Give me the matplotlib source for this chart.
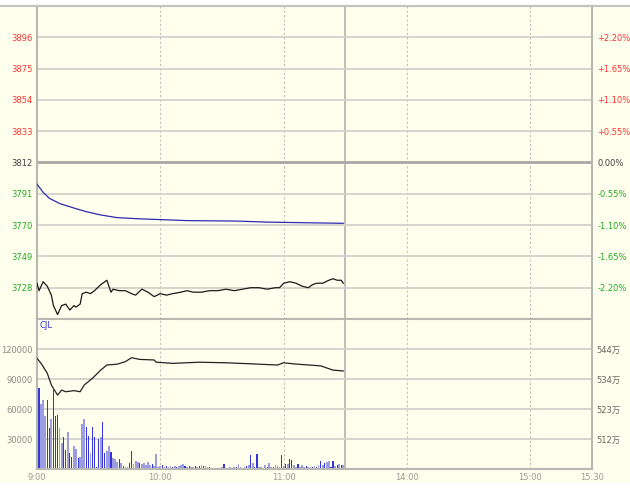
import matplotlib
matplotlib.use('Agg')
import matplotlib.pyplot as plt
from matplotlib.patches import Rectangle
from matplotlib.lines import Line2D

plt.rcParams['font.family'] = ['DejaVu Sans', 'Noto Sans CJK SC']

# price panel: minute index from 9:00, black = price, blue = average price
price_t = [0, 1, 3, 5, 7, 8, 10, 12, 14, 16, 18, 19, 21, 22, 24, 26, 28, 31, 34, 36,
           37, 40, 43, 46, 48, 51, 54, 57, 60, 63, 66, 70, 73, 76, 80, 84, 88, 92, 96, 100,
           104, 108, 112, 116, 118, 120, 123, 126, 129, 132, 134, 136, 139, 142, 144, 146, 148, 149]
price = [3731, 3726, 3732, 3729, 3723, 3716, 3710, 3716, 3717, 3713, 3716, 3715, 3717, 3724, 3725, 3724, 3726, 3730, 3733, 3725,
         3727, 3726, 3726, 3724, 3723, 3727, 3725, 3722, 3724, 3723, 3724, 3725, 3726, 3725, 3725, 3726, 3726, 3727, 3726, 3727,
         3728, 3728, 3727, 3728, 3728, 3731, 3732, 3731, 3729, 3728, 3730, 3731, 3731, 3733, 3734, 3733, 3733, 3731]
avg_t = [0, 3, 6, 11, 19, 24, 31, 39, 50, 60, 73, 97, 112, 130, 149]
avg = [3797.5, 3792, 3788, 3784.5, 3781, 3779, 3776.8, 3775, 3774.2, 3773.7, 3773, 3772.7, 3772, 3771.6, 3771.2]

prev_close = 3812
price_ticks = [3728, 3749, 3770, 3791, 3812, 3833, 3854, 3875, 3896]
pct_labels = ['-2.20%', '-1.65%', '-1.10%', '-0.55%', '0.00%', '+0.55%', '+1.10%', '+1.65%', '+2.20%']

# volume panel
volume = [200000, 80700, 64700, 69000, 53000, 69000, 40700, 50000, 79000, 53000,
          54000, 40700, 25700, 32300, 19000, 36700, 16300, 12300, 23000, 19700,
          11300, 12300, 45000, 49700, 41700, 33000, 15700, 42300, 31700, 2300,
          29700, 31700, 47300, 15700, 18300, 23000, 17300, 10700, 9700, 7300,
          9700, 5700, 3300, 2300, 2300, 5700, 18300, 5000, 8300, 7300,
          6300, 5000, 6300, 4000, 7300, 4000, 5000, 3000, 15000, 2300,
          3000, 4000, 2300, 3300, 2300, 3000, 2300, 3000, 2300, 3300,
          4000, 4700, 3000, 2300, 3000, 1700, 2300, 3300, 2300, 3000,
          3700, 3000, 3000, 2300, 1700, 1300, 1000, 1000, 1300, 1000,
          1700, 5000, 1000, 1300, 1700, 1300, 2300, 1700, 4700, 1700,
          1000, 2300, 3000, 4000, 14000, 6300, 2300, 14700, 2300, 1700,
          1000, 3700, 2300, 5700, 1700, 2300, 3700, 3000, 2300, 13700,
          3000, 5000, 5000, 10000, 8700, 4000, 2300, 4700, 2300, 3700,
          2300, 3000, 1700, 2300, 1700, 3000, 2300, 3700, 8300, 4000,
          5700, 7300, 8300, 2300, 8000, 3000, 3700, 5000, 4000, 3700]
up_flags = ('1100011011' '1001101100' '1000110111' '1011001000' '1010011000'
            '1000001000' '0101001010' '0010100101' '0100100010' '0100010100'
            '0010101100' '1010010001' '0101100100' '0100101010' '1001101010')
vol_ticks = [30000, 60000, 90000, 120000]

# second line in the volume panel (unit: 万)
oi_t = [0, 2, 5, 7, 10, 12, 14, 18, 21, 23, 27, 31, 34, 39, 43, 46, 50, 57, 58, 66,
        79, 92, 105, 117, 120, 125, 138, 144, 149]
oi = [540.7, 538.9, 535.4, 531.2, 527.6, 529.4, 528.8, 529.2, 528.8, 531.2, 533.6, 536.5, 538.3, 538.6, 539.5, 540.9, 540.3, 540.1, 539.3, 538.9,
      539.3, 539.1, 538.7, 538.3, 539.1, 538.7, 538.0, 536.5, 536.2]
oi_ticks = [512, 522.67, 533.33, 544]
oi_labels = ['512万', '523万', '534万', '544万']

time_ticks = [0, 60, 120, 180, 240, 270]
time_labels = ['9:00', '10:00', '11:00', '14:00', '15:00', '15:30']

bg = '#FFFFEE'
grid = '#D2D2CC'
red = '#FF3333'
green = '#22AA22'

fig = plt.figure(figsize=(6.3, 4.9), dpi=100)
fig.patch.set_facecolor('white')
fig.add_artist(Rectangle((0, 0.0165), 1, 0.9713, transform=fig.transFigure,
                         color=bg, zorder=-10))
# top border runs across the whole window
fig.add_artist(Line2D([0, 1], [0.9878, 0.9878], transform=fig.transFigure,
                      color='#C4C4BE', lw=1.5))

ax1 = fig.add_axes([0.0587, 0.34898, 0.881, 0.63878])
ax2 = fig.add_axes([0.0587, 0.042857, 0.881, 0.30612])

for ax in (ax1, ax2):
    ax.set_facecolor(bg)
    ax.set_xlim(0, 270)
    for s in ax.spines.values():
        s.set_color('#B8B8B0')
        s.set_linewidth(1.5)
    for x in [60, 120, 180, 240]:
        ax.axvline(x, color='#C0C0BA', lw=0.8, ls=(0, (2, 2)), zorder=1)
    ax.axvline(150, color='#B8B8B0', lw=1.3, zorder=1)

# price panel
ax1.set_ylim(3707, 3917)
for y in price_ticks:
    if y == prev_close:
        ax1.axhline(y, color='#A8A8A4', lw=2.0, zorder=1)
    else:
        ax1.axhline(y, color=grid, lw=1.3, zorder=1)
ax1.plot(avg_t, avg, color='#2B2BB0', lw=0.9, zorder=3)
ax1.plot(price_t, price, color='#1A1A1A', lw=0.9, zorder=3)
ax1.set_xticks([])
ax1.set_yticks(price_ticks)
ax1.set_yticklabels([str(v) for v in price_ticks])
ax1.tick_params(axis='y', length=0, pad=3, labelsize=6)


def pick(v):
    if v > prev_close:
        return red
    if v < prev_close:
        return green
    return '#404040'


for lab, v in zip(ax1.get_yticklabels(), price_ticks):
    lab.set_color(pick(v))

ax1r = ax1.twinx()
ax1r.set_ylim(3707, 3917)
ax1r.set_yticks(price_ticks)
ax1r.set_yticklabels(pct_labels)
ax1r.tick_params(axis='y', length=0, pad=4, labelsize=6)
for s in ax1r.spines.values():
    s.set_visible(False)
for lab, v in zip(ax1r.get_yticklabels(), price_ticks):
    lab.set_color(pick(v))

# volume panel
ax2.set_ylim(0, 150000)
for y in vol_ticks:
    ax2.axhline(y, color=grid, lw=1.3, zorder=1)
for i, v in enumerate(volume):
    if up_flags[i] == '1':
        ax2.bar(i, v, width=0.55, color='#3434D8', lw=0, zorder=2)
    else:
        ax2.bar(i, v, width=0.85, color='#9C9CE0', lw=0, zorder=2)
ax2.set_yticks(vol_ticks)
ax2.set_yticklabels([str(v) for v in vol_ticks])
ax2.tick_params(axis='y', length=0, pad=3, labelsize=6, labelcolor='#8A8A84')
ax2.set_xticks(time_ticks)
ax2.set_xticklabels(time_labels)
ax2.tick_params(axis='x', length=0, pad=3, labelsize=6, labelcolor='#9A9A94')

ax2r = ax2.twinx()
ax2r.set_ylim(501.333, 554.667)
ax2r.plot(oi_t, oi, color='#222222', lw=0.9)
ax2r.set_yticks(oi_ticks)
ax2r.set_yticklabels(oi_labels)
ax2r.tick_params(axis='y', length=0, pad=3, labelsize=6, labelcolor='#666660')
for s in ax2r.spines.values():
    s.set_visible(False)

fig.text(39 / 630, 1 - 326 / 490, 'CJL', color='#3333CC', fontsize=6,
         ha='left', va='center')

fig.savefig('out.png', dpi=100, facecolor=fig.get_facecolor())
